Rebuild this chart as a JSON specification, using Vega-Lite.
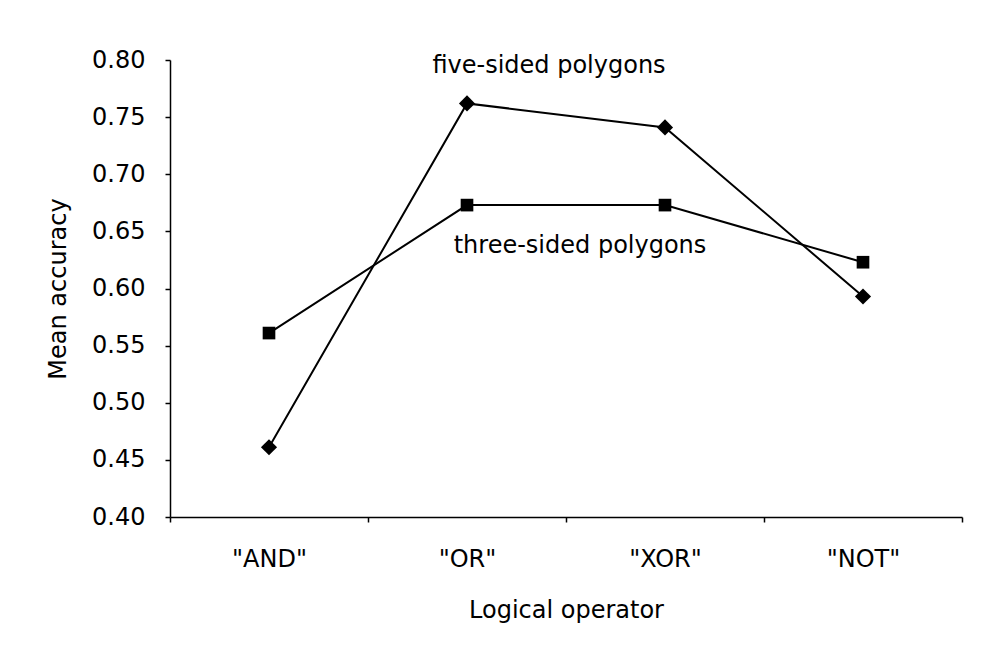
{
  "$schema": "https://vega.github.io/schema/vega-lite/v6.json",
  "width": 792,
  "height": 457,
  "autosize": {"type": "none"},
  "padding": {"left": 170, "top": 60, "right": 45, "bottom": 143},
  "background": "white",
  "config": {
    "view": {"stroke": null},
    "font": "DejaVu Sans",
    "axis": {"grid": false, "domainColor": "black", "tickColor": "black", "labelColor": "black", "titleColor": "black", "labelFont": "DejaVu Sans", "titleFont": "DejaVu Sans", "labelFontSize": 24, "titleFontSize": 24, "titleFontWeight": "normal", "domainWidth": 1.5, "tickWidth": 1.5}
  },
  "datasets": {
    "acc": [
      {"operator": "\"AND\"", "series": "five-sided polygons", "accuracy": 0.461},
      {"operator": "\"OR\"", "series": "five-sided polygons", "accuracy": 0.762},
      {"operator": "\"XOR\"", "series": "five-sided polygons", "accuracy": 0.741},
      {"operator": "\"NOT\"", "series": "five-sided polygons", "accuracy": 0.593},
      {"operator": "\"AND\"", "series": "three-sided polygons", "accuracy": 0.561},
      {"operator": "\"OR\"", "series": "three-sided polygons", "accuracy": 0.673},
      {"operator": "\"XOR\"", "series": "three-sided polygons", "accuracy": 0.673},
      {"operator": "\"NOT\"", "series": "three-sided polygons", "accuracy": 0.623}
    ]
  },
  "layer": [
    {
      "data": {"name": "acc"},
      "mark": {"type": "line", "color": "black", "strokeWidth": 2},
      "encoding": {
        "x": {"field": "operator", "type": "nominal", "sort": ["\"AND\"", "\"OR\"", "\"XOR\"", "\"NOT\""],
              "scale": {"type": "band", "paddingInner": 0, "paddingOuter": 0},
              "axis": {"title": "Logical operator", "labelAngle": 0, "tickBand": "extent", "tickSize": 5, "labelPadding": 25, "titleY": 100, "titleBaseline": "alphabetic"}},
        "y": {"field": "accuracy", "type": "quantitative",
              "scale": {"domain": [0.4, 0.8], "nice": false, "zero": false},
              "axis": {"title": "Mean accuracy", "values": [0.4, 0.45, 0.5, 0.55, 0.6, 0.65, 0.7, 0.75, 0.8], "format": ".2f", "tickSize": 5, "labelPadding": 20, "titleX": -105, "titleBaseline": "alphabetic"}},
        "detail": {"field": "series"}
      }
    },
    {
      "data": {"name": "acc"},
      "mark": {"type": "point", "filled": true, "color": "black", "opacity": 1},
      "encoding": {
        "x": {"field": "operator", "type": "nominal", "sort": ["\"AND\"", "\"OR\"", "\"XOR\"", "\"NOT\""]},
        "y": {"field": "accuracy", "type": "quantitative"},
        "shape": {"field": "series", "type": "nominal", "scale": {"domain": ["five-sided polygons", "three-sided polygons"], "range": ["diamond", "square"]}, "legend": null},
        "size": {"field": "series", "type": "nominal", "scale": {"domain": ["five-sided polygons", "three-sided polygons"], "range": [260, 160]}, "legend": null}
      }
    },
    {
      "data": {"values": [{"label": "five-sided polygons", "operator": "\"OR\"", "accuracy": 0.7886}]},
      "mark": {"type": "text", "font": "DejaVu Sans", "fontSize": 24, "align": "center", "baseline": "alphabetic", "dx": 82, "color": "black"},
      "encoding": {
        "x": {"field": "operator", "type": "nominal", "sort": ["\"AND\"", "\"OR\"", "\"XOR\"", "\"NOT\""]},
        "y": {"field": "accuracy", "type": "quantitative"},
        "text": {"field": "label"}
      }
    },
    {
      "data": {"values": [{"label": "three-sided polygons", "operator": "\"OR\"", "accuracy": 0.631}]},
      "mark": {"type": "text", "font": "DejaVu Sans", "fontSize": 24, "align": "center", "baseline": "alphabetic", "dx": 113, "color": "black"},
      "encoding": {
        "x": {"field": "operator", "type": "nominal", "sort": ["\"AND\"", "\"OR\"", "\"XOR\"", "\"NOT\""]},
        "y": {"field": "accuracy", "type": "quantitative"},
        "text": {"field": "label"}
      }
    }
  ]
}
